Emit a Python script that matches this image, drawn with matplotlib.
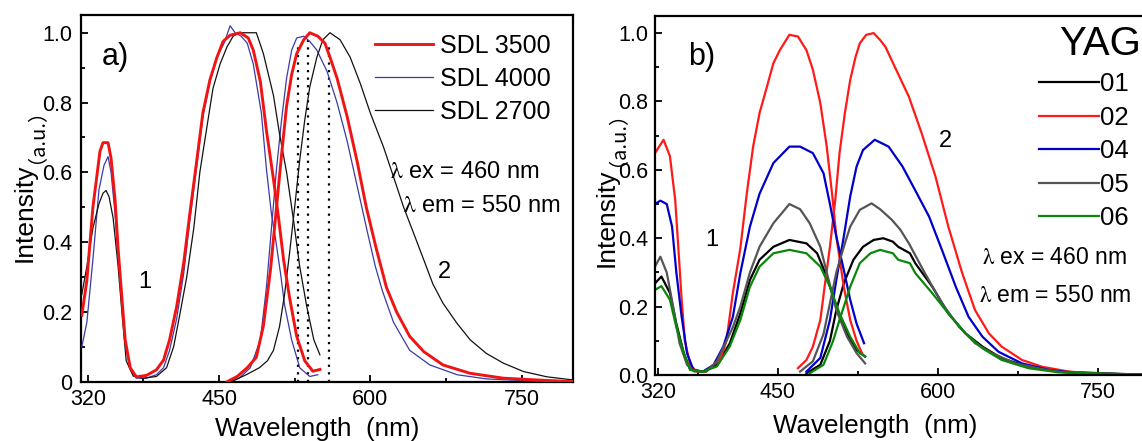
import matplotlib
matplotlib.use('Agg')
import matplotlib.pyplot as plt
from matplotlib.ticker import FixedLocator, FixedFormatter

plt.rcParams['font.family'] = ['Liberation Sans', 'DejaVu Sans']
plt.rcParams['mathtext.fontset'] = 'stix'

# ---------------- Panel a data (SDL phosphors) ----------------
a_ex_wl_3500 = [314, 319, 325, 332, 335, 340, 343, 347, 350, 354, 357, 362, 368, 378, 388, 395, 401, 408, 415, 421,
                428, 434, 441, 448, 454, 461, 471, 479, 484, 491, 497, 504, 509, 514, 520, 527, 535, 543, 550]
a_ex_3500 = [0.19, 0.29, 0.50, 0.66, 0.685, 0.685, 0.64, 0.52, 0.38, 0.23, 0.12, 0.04, 0.014, 0.018, 0.034, 0.062, 0.12,
             0.215, 0.34, 0.48, 0.635, 0.77, 0.865, 0.93, 0.975, 0.993, 1.0, 0.985, 0.95, 0.86, 0.72, 0.58, 0.47, 0.35,
             0.24, 0.13, 0.06, 0.03, 0.035]
a_em_wl_3500 = [458, 468, 478, 487, 494, 501, 507, 512, 517, 522, 527, 534, 540, 548, 555, 560, 567, 577, 587, 596,
                606, 616, 626, 639, 653, 672, 699, 732, 765, 801]
a_em_3500 = [0, 0.015, 0.04, 0.07, 0.16, 0.32, 0.50, 0.65, 0.79, 0.88, 0.94, 0.98, 1.0, 0.99, 0.97, 0.93, 0.87, 0.76,
             0.63, 0.50, 0.38, 0.27, 0.20, 0.13, 0.086, 0.048, 0.024, 0.01, 0.005, 0]

a_ex_wl_4000 = [314, 319, 325, 331, 336, 340, 343, 347, 350, 354, 357, 362, 368, 378, 388, 395, 401, 408, 415, 421,
                428, 434, 441, 448, 455, 461, 466, 472, 478, 484, 492, 497, 502, 506, 511, 515, 522, 530, 540, 548]
a_ex_4000 = [0.10, 0.17, 0.35, 0.55, 0.62, 0.645, 0.60, 0.48, 0.36, 0.22, 0.11, 0.035, 0.01, 0.01, 0.02, 0.04, 0.09,
             0.18, 0.31, 0.46, 0.62, 0.76, 0.86, 0.93, 0.97, 1.02, 1.0, 0.99, 0.97, 0.91, 0.77, 0.61, 0.48, 0.41, 0.31,
             0.22, 0.12, 0.04, 0.015, 0.02]
a_em_wl_4000 = [460, 470, 481, 491, 497, 502, 507, 512, 517, 522, 527, 534, 540, 547, 557, 567, 577, 587, 597, 605,
                612, 623, 639, 659, 686, 715, 760, 801]
a_em_4000 = [0, 0.01, 0.04, 0.12, 0.27, 0.44, 0.61, 0.75, 0.87, 0.95, 0.985, 0.99, 0.975, 0.95, 0.89, 0.80, 0.69, 0.56,
             0.43, 0.33, 0.26, 0.17, 0.09, 0.048, 0.02, 0.008, 0.002, 0]

a_ex_wl_2700 = [314, 319, 325, 331, 335, 338, 341, 345, 350, 354, 358, 365, 375, 388, 398, 405, 411, 418, 425, 431,
                438, 444, 451, 458, 464, 470, 480, 487, 494, 504, 510, 517, 524, 530, 537, 544, 550]
a_ex_2700 = [0.25, 0.33, 0.44, 0.51, 0.54, 0.548, 0.53, 0.47, 0.33, 0.19, 0.06, 0.016, 0.01, 0.015, 0.04, 0.10, 0.19,
             0.30, 0.44, 0.60, 0.73, 0.84, 0.91, 0.96, 0.99, 1.0, 1.0, 1.0, 0.94, 0.82, 0.71, 0.60, 0.46, 0.33, 0.215,
             0.12, 0.077]
a_em_wl_2700 = [462, 477, 490, 498, 504, 510, 515, 520, 525, 530, 535, 540, 547, 553, 560, 570, 580, 590, 600, 613,
                623, 633, 643, 653, 662, 672, 686, 699, 715, 732, 752, 775, 801]
a_em_2700 = [0, 0.02, 0.04, 0.06, 0.09, 0.158, 0.25, 0.37, 0.50, 0.635, 0.75, 0.845, 0.93, 0.98, 1.0, 0.98, 0.93, 0.855,
             0.77, 0.673, 0.587, 0.50, 0.425, 0.349, 0.28, 0.225, 0.167, 0.12, 0.081, 0.053, 0.029, 0.014, 0.005]

a_peak_wl = [528.6, 538.5, 559.3]
a_peak_top = [0.96, 0.98, 0.96]
a_labels = ['SDL 3500', 'SDL 4000', 'SDL 2700']

# ---------------- Panel b data (YAG samples) ----------------
b_ex_wl_02 = [335, 343, 349, 354, 357, 360, 363, 368, 374, 383, 390, 396, 402, 408, 415, 421, 427, 433, 440, 446, 452,
              461, 469, 477, 483, 490, 496, 501, 505, 512, 518, 524, 529]
b_ex_02 = [0.649, 0.688, 0.64, 0.51, 0.366, 0.22, 0.10, 0.03, 0.01, 0.01, 0.03, 0.044, 0.10, 0.24, 0.37, 0.53, 0.668,
           0.766, 0.844, 0.912, 0.95, 0.995, 0.99, 0.95, 0.893, 0.795, 0.668, 0.53, 0.405, 0.258, 0.161, 0.10, 0.064]
b_em_wl_02 = [469, 477, 483, 490, 494, 499, 504, 508, 513, 518, 523, 527, 533, 540, 546, 551, 560, 573, 585, 598, 610,
              623, 635, 648, 660, 679, 698, 723, 748, 800]
b_em_02 = [0.02, 0.044, 0.083, 0.161, 0.258, 0.375, 0.512, 0.649, 0.766, 0.863, 0.93, 0.97, 0.995, 1.0, 0.98, 0.96,
           0.90, 0.814, 0.707, 0.58, 0.434, 0.298, 0.19, 0.122, 0.083, 0.044, 0.024, 0.01, 0.004, 0]

b_ex_wl_04 = [335, 340, 346, 351, 355, 360, 365, 371, 380, 390, 399, 408, 415, 424, 433, 446, 461, 471, 483, 493, 499,
              505, 512, 518, 524, 531]
b_ex_04 = [0.50, 0.51, 0.50, 0.434, 0.30, 0.17, 0.064, 0.015, 0.01, 0.03, 0.083, 0.17, 0.298, 0.434, 0.53, 0.62, 0.668,
           0.668, 0.649, 0.59, 0.50, 0.405, 0.307, 0.22, 0.15, 0.093]
b_em_wl_04 = [477, 490, 499, 505, 512, 518, 524, 530, 541, 554, 567, 579, 592, 604, 617, 629, 642, 657, 679, 704, 729,
              800]
b_em_04 = [0.01, 0.05, 0.161, 0.278, 0.405, 0.522, 0.61, 0.658, 0.688, 0.668, 0.61, 0.54, 0.463, 0.366, 0.258, 0.17,
           0.112, 0.068, 0.034, 0.015, 0.006, 0]

b_ex_wl_05 = [335, 340, 346, 352, 358, 365, 372, 383, 393, 402, 408, 415, 424, 433, 446, 461, 471, 480, 490, 496, 505,
              515, 524, 532]
b_ex_05 = [0.317, 0.346, 0.30, 0.20, 0.093, 0.03, 0.01, 0.01, 0.04, 0.10, 0.14, 0.20, 0.30, 0.375, 0.444, 0.50, 0.485,
           0.444, 0.375, 0.30, 0.19, 0.112, 0.064, 0.034]
b_em_wl_05 = [471, 483, 493, 499, 505, 512, 518, 527, 538, 546, 557, 565, 573, 588, 604, 620, 635, 651, 673, 698, 720,
              800]
b_em_05 = [0.01, 0.04, 0.12, 0.21, 0.30, 0.375, 0.434, 0.483, 0.502, 0.485, 0.454, 0.425, 0.385, 0.298, 0.21, 0.141,
           0.093, 0.064, 0.034, 0.017, 0.007, 0]

b_ex_wl_01 = [335, 341, 349, 355, 362, 368, 380, 393, 405, 415, 424, 433, 446, 461, 477, 487, 496, 505, 515, 524, 532]
b_ex_01 = [0.268, 0.288, 0.24, 0.15, 0.064, 0.015, 0.01, 0.03, 0.092, 0.18, 0.278, 0.337, 0.375, 0.395, 0.385, 0.356,
           0.288, 0.20, 0.122, 0.073, 0.054]
b_em_wl_01 = [477, 490, 499, 505, 512, 521, 530, 540, 549, 558, 563, 574, 579, 595, 610, 626, 642, 660, 685, 713, 800]
b_em_01 = [0.005, 0.03, 0.10, 0.19, 0.268, 0.337, 0.375, 0.395, 0.40, 0.39, 0.375, 0.356, 0.327, 0.258, 0.18, 0.122,
           0.083, 0.049, 0.024, 0.01, 0]

b_ex_wl_06 = [335, 341, 349, 355, 362, 368, 380, 393, 405, 415, 424, 433, 446, 461, 477, 490, 499, 508, 518, 527, 532]
b_ex_06 = [0.249, 0.26, 0.22, 0.14, 0.064, 0.015, 0.01, 0.025, 0.083, 0.161, 0.258, 0.317, 0.356, 0.366, 0.356, 0.317,
           0.258, 0.18, 0.112, 0.064, 0.054]
b_em_wl_06 = [480, 493, 502, 508, 518, 527, 537, 546, 558, 563, 574, 579, 595, 610, 626, 642, 660, 685, 713, 800]
b_em_06 = [0.005, 0.03, 0.10, 0.161, 0.258, 0.327, 0.356, 0.366, 0.356, 0.337, 0.327, 0.298, 0.239, 0.18, 0.122,
           0.078, 0.044, 0.02, 0.008, 0]

b_labels = ['01', '02', '04', '05', '06']

x_tick_labels = ['320', '450', '600', '750']
a_y_tick_labels = ['0', '0.2', '0.4', '0.6', '0.8', '1.0']
b_y_tick_labels = ['0.0', '0.2', '0.4', '0.6', '0.8', '1.0']

# ---------------- Figure ----------------
W, H = 1142, 441
fig = plt.figure(figsize=(W / 100, H / 100), dpi=100)


def fx(px):
    return px / W


def fy(py):
    return 1 - py / H


def add_axes(l, r, t, b):
    return fig.add_axes([fx(l), fy(b), fx(r) - fx(l), fy(t) - fy(b)])


def style(ax, xlim, xticks, ylabels, ypad):
    ax.set_xlim(*xlim)
    ax.set_ylim(0, 1.05)
    for s in ax.spines.values():
        s.set_linewidth(1.6)
    ax.tick_params(which='both', direction='in', width=1.3, labelsize=15.5)
    ax.tick_params(which='major', length=5)
    ax.tick_params(which='minor', length=3)
    ax.tick_params(axis='x', pad=5)
    ax.tick_params(axis='y', pad=ypad)
    ax.xaxis.set_major_locator(FixedLocator(xticks))
    ax.xaxis.set_major_formatter(FixedFormatter(x_tick_labels))
    ax.xaxis.set_minor_locator(FixedLocator([375, 525, 675]))
    ax.yaxis.set_major_locator(FixedLocator([0, 0.2, 0.4, 0.6, 0.8, 1.0]))
    ax.yaxis.set_major_formatter(FixedFormatter(ylabels))
    ax.yaxis.set_minor_locator(FixedLocator([0.1, 0.3, 0.5, 0.7, 0.9]))


# ---- panel a ----
axa = add_axes(80.7, 573.3, 15.3, 381.7)
style(axa, (312.9, 801.2), [320, 450, 600, 750], a_y_tick_labels, 6)

c_red_a, c_blue_a, c_blk_a = '#f01414', '#3a3aa8', '#111111'
h1, = axa.plot(a_ex_wl_3500, a_ex_3500, color=c_red_a, lw=2.1, zorder=4)
axa.plot(a_em_wl_3500, a_em_3500, color=c_red_a, lw=2.1, zorder=4)
h2, = axa.plot(a_ex_wl_4000, a_ex_4000, color=c_blue_a, lw=0.9, zorder=3)
axa.plot(a_em_wl_4000, a_em_4000, color=c_blue_a, lw=0.9, zorder=3)
h3, = axa.plot(a_ex_wl_2700, a_ex_2700, color=c_blk_a, lw=0.9, zorder=3)
axa.plot(a_em_wl_2700, a_em_2700, color=c_blk_a, lw=0.9, zorder=3)
axa.vlines(a_peak_wl, 0, a_peak_top, colors='black', lw=1.6, linestyles=(0, (1, 2.4)), zorder=2)

axa.legend([h1, h2, h3], a_labels, loc='upper left', bbox_to_anchor=(fx(375), fy(34)),
           bbox_transform=fig.transFigure, frameon=False, fontsize=18, handlelength=2.32,
           handletextpad=0.28, labelspacing=0.36, borderpad=0, borderaxespad=0)

# ---- panel b ----
axb = add_axes(655, 1151, 16, 375)
style(axb, (335.0, 800), [338, 450, 600, 750], b_y_tick_labels, 5)

cols_b = {'01': '#000000', '02': '#ff1a1a', '04': '#0000c8', '05': '#555555', '06': '#0a860a'}
hb = {}
for key, wx, yx, wm, ym in [('01', b_ex_wl_01, b_ex_01, b_em_wl_01, b_em_01),
                            ('02', b_ex_wl_02, b_ex_02, b_em_wl_02, b_em_02),
                            ('04', b_ex_wl_04, b_ex_04, b_em_wl_04, b_em_04),
                            ('05', b_ex_wl_05, b_ex_05, b_em_wl_05, b_em_05),
                            ('06', b_ex_wl_06, b_ex_06, b_em_wl_06, b_em_06)]:
    hb[key], = axb.plot(wx, yx, color=cols_b[key], lw=1.6)
    axb.plot(wm, ym, color=cols_b[key], lw=1.6)

axb.legend([hb[k] for k in b_labels], b_labels, loc='upper left', bbox_to_anchor=(fx(1038.7), fy(72)),
           bbox_transform=fig.transFigure, frameon=False, fontsize=18.5, handlelength=2.33,
           handletextpad=0.06, labelspacing=0.37, borderpad=0, borderaxespad=0)

# ---- texts ----
lam_ex = r'$\mathrm{\lambda}$ ex = 460 nm'
lam_em = r'$\mathrm{\lambda}$ em = 550 nm'

fig.text(fx(101.7), fy(65), 'a)', fontsize=22, va='baseline', ha='left')
fig.text(fx(145), fy(281.5), '1', fontsize=17, ha='center', va='center')
fig.text(fx(444), fy(272.5), '2', fontsize=17, ha='center', va='center')
fig.text(fx(390), fy(172), lam_ex, fontsize=17, ha='left', va='center')
fig.text(fx(403), fy(206.5), lam_em, fontsize=17, ha='left', va='center')

fig.text(fx(688.3), fy(65), 'b)', fontsize=22, va='baseline', ha='left')
fig.text(fx(711.7), fy(240), '1', fontsize=17, ha='center', va='center')
fig.text(fx(945), fy(141), '2', fontsize=17, ha='center', va='center')
fig.text(fx(1058.7), fy(55), 'YAG', fontsize=29, va='baseline', ha='left')
fig.text(fx(982), fy(257.3), lam_ex, fontsize=16.5, ha='left', va='center')
fig.text(fx(978.7), fy(296), lam_em, fontsize=16.5, ha='left', va='center')

# axis labels
fig.text(fx(317.5), fy(436), 'Wavelength  (nm)', fontsize=18.7, ha='center', va='baseline')
fig.text(fx(875), fy(433.3), 'Wavelength  (nm)', fontsize=18.7, ha='center', va='baseline')

for bx, ystart, ystart2 in [(31.7, 261.7, 163.0), (613.3, 266.7, 166.0)]:
    fig.text(fx(bx), fy(ystart), 'Intensity', fontsize=19, rotation=90, rotation_mode='anchor',
             ha='left', va='baseline')
    fig.text(fx(bx), fy(ystart2), '（a.u.）', fontsize=14.5, rotation=90, rotation_mode='anchor',
             ha='left', va='baseline', family=['Noto Sans CJK SC', 'DejaVu Sans'])

fig.savefig('out.png', dpi=100)
